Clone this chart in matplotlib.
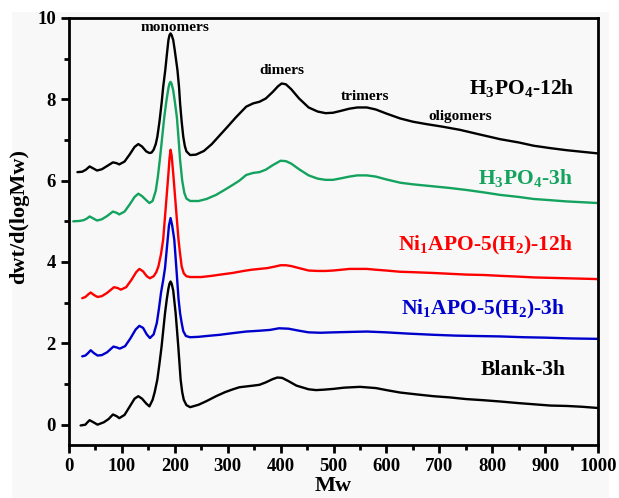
import matplotlib
matplotlib.use("Agg")
import matplotlib.pyplot as plt
from matplotlib.patches import Rectangle
from matplotlib.ticker import MultipleLocator

plt.rcParams['font.family'] = ['Liberation Serif', 'DejaVu Serif']
plt.rcParams['font.weight'] = 'bold'
plt.rcParams['mathtext.fontset'] = 'custom'
plt.rcParams['mathtext.rm'] = 'Liberation Serif:bold'
plt.rcParams['mathtext.bf'] = 'Liberation Serif:bold'

# ---- data ----
h3po4_12h_x = [16, 25, 32, 39, 46, 53, 62, 72, 83, 90, 95, 105, 115, 124, 131, 138, 146, 152, 156, 160,
               164, 167, 171, 175, 178, 182, 185, 188, 190, 192, 194, 197, 200, 205, 208, 210, 213, 216, 219,
               222, 229, 240, 255, 270, 286, 300, 315, 335, 348, 360, 372, 385, 395, 402, 410, 420, 435, 453,
               470, 485, 499, 515, 530, 545, 563, 580, 600, 626, 650, 676, 705, 739, 775, 815, 850, 878, 910,
               940, 970, 1000]
h3po4_12h_y = [6.21, 6.22, 6.27, 6.35, 6.30, 6.25, 6.28, 6.36, 6.45, 6.43, 6.40, 6.47, 6.65, 6.83, 6.90, 6.84, 6.72, 6.68, 6.69, 6.76,
               6.90, 7.08, 7.45, 7.90, 8.30, 8.72, 9.10, 9.46, 9.58, 9.62, 9.58, 9.46, 9.20, 8.72, 8.30, 7.90, 7.45, 7.08, 6.85,
               6.72, 6.63, 6.64, 6.73, 6.90, 7.13, 7.33, 7.55, 7.82, 7.90, 7.94, 8.02, 8.18, 8.32, 8.39, 8.37, 8.25, 8.02, 7.80,
               7.70, 7.66, 7.67, 7.72, 7.77, 7.80, 7.80, 7.75, 7.65, 7.53, 7.45, 7.39, 7.33, 7.25, 7.14, 7.02, 6.94, 6.86, 6.80,
               6.75, 6.71, 6.67]

h3po4_3h_x = [8, 20, 28, 34, 39, 46, 53, 62, 72, 83, 90, 95, 105, 115, 124, 131, 138, 146, 152, 158, 164,
              168, 172, 176, 180, 184, 188, 190, 192, 194, 197, 200, 204, 207, 210, 214, 218, 222, 229,
              245, 260, 278, 295, 310, 322, 335, 348, 360, 372, 385, 400, 410, 420, 435, 453, 470, 485, 499,
              515, 530, 545, 563, 580, 600, 626, 650, 689, 720, 752, 785, 815, 850, 878, 910, 940, 970, 1000]
h3po4_3h_y = [5.00, 5.01, 5.03, 5.07, 5.12, 5.07, 5.02, 5.05, 5.13, 5.24, 5.21, 5.17, 5.24, 5.42, 5.60, 5.68, 5.62, 5.52, 5.45, 5.50, 5.75,
              6.10, 6.55, 7.05, 7.55, 7.95, 8.28, 8.39, 8.43, 8.38, 8.22, 7.95, 7.55, 7.05, 6.51, 6.00, 5.70, 5.56, 5.50,
              5.50, 5.55, 5.65, 5.78, 5.90, 6.00, 6.14, 6.19, 6.21, 6.27, 6.38, 6.49, 6.48, 6.42, 6.28, 6.13, 6.05, 6.02, 6.02,
              6.06, 6.10, 6.13, 6.13, 6.10, 6.03, 5.95, 5.91, 5.86, 5.82, 5.77, 5.71, 5.65, 5.60, 5.55, 5.52, 5.49, 5.47, 5.45]

ni_12h_x = [25, 31, 36, 41, 47, 54, 62, 72, 85, 92, 98, 108, 118, 127, 133, 140, 147, 153, 160, 165,
            169, 174, 178, 183, 188, 190, 192, 194, 197, 202, 207, 210, 213, 217, 222, 229, 250, 270, 286,
            309, 330, 345, 360, 375, 390, 400, 410, 420, 435, 453, 470, 485, 499, 515, 530, 545, 563, 580,
            600, 626, 650, 689, 720, 752, 785, 815, 850, 880, 910, 940, 970, 1000]
ni_12h_y = [3.11, 3.14, 3.20, 3.25, 3.19, 3.14, 3.16, 3.24, 3.38, 3.36, 3.32, 3.38, 3.56, 3.75, 3.83, 3.77, 3.65, 3.60, 3.65, 3.75,
            3.89, 4.20, 4.55, 5.36, 6.18, 6.55, 6.76, 6.62, 6.18, 5.36, 4.55, 4.20, 3.89, 3.72, 3.65, 3.63, 3.63, 3.66, 3.69,
            3.73, 3.78, 3.81, 3.83, 3.85, 3.89, 3.92, 3.92, 3.90, 3.85, 3.79, 3.78, 3.78, 3.79, 3.81, 3.83, 3.83, 3.83, 3.81,
            3.79, 3.76, 3.75, 3.73, 3.71, 3.69, 3.68, 3.66, 3.64, 3.62, 3.61, 3.60, 3.59, 3.58]

ni_3h_x = [25, 31, 36, 41, 47, 54, 62, 72, 84, 90, 96, 106, 116, 126, 133, 140, 147, 153, 160, 166,
           170, 174, 178, 181.5, 184, 186.5, 189, 192, 195, 199, 201, 203.6, 207, 210, 213, 216, 221, 229,
           245, 260, 285, 309, 335, 360, 380, 397, 415, 435, 453, 475, 500, 530, 563, 600, 640, 689, 730,
           770, 815, 860, 900, 950, 1000]
ni_3h_y = [1.68, 1.70, 1.76, 1.83, 1.76, 1.70, 1.71, 1.78, 1.92, 1.90, 1.87, 1.93, 2.12, 2.34, 2.43, 2.38, 2.22, 2.13, 2.22, 2.50,
           2.85, 3.25, 3.55, 3.85, 4.20, 4.55, 4.90, 5.08, 4.90, 4.55, 4.20, 3.73, 3.10, 2.74, 2.50, 2.30, 2.18, 2.15,
           2.16, 2.18, 2.21, 2.25, 2.29, 2.31, 2.33, 2.37, 2.36, 2.31, 2.27, 2.26, 2.27, 2.28, 2.29, 2.27, 2.24, 2.21, 2.19,
           2.18, 2.17, 2.15, 2.14, 2.12, 2.11]

blank_x = [22, 31, 35, 39, 46, 54, 66, 75, 83, 90, 95, 105, 115, 124, 131, 138, 146, 152, 158, 162,
           167, 171, 175, 178, 181.5, 185, 188, 190, 192, 194, 197, 201.6, 204, 206.6, 211, 214, 217, 222,
           229, 245, 260, 278, 295, 310, 322, 335, 348, 360, 372, 385, 394, 403, 415, 430, 453, 467, 481,
           500, 520, 550, 580, 600, 626, 660, 689, 720, 750, 785, 815, 850, 880, 910, 941, 970, 1000]
blank_y = [-0.02, 0.00, 0.06, 0.11, 0.06, 0.00, 0.06, 0.14, 0.25, 0.21, 0.16, 0.24, 0.45, 0.64, 0.70, 0.64, 0.52, 0.45, 0.61, 0.80,
           1.11, 1.50, 1.92, 2.30, 2.74, 3.10, 3.35, 3.47, 3.52, 3.47, 3.30, 2.74, 2.35, 1.92, 1.11, 0.80, 0.61, 0.48,
           0.43, 0.49, 0.58, 0.70, 0.80, 0.87, 0.92, 0.94, 0.96, 0.98, 1.04, 1.12, 1.16, 1.15, 1.07, 0.96, 0.87, 0.85, 0.86,
           0.88, 0.91, 0.93, 0.90, 0.85, 0.79, 0.74, 0.70, 0.67, 0.63, 0.60, 0.57, 0.53, 0.50, 0.47, 0.46, 0.44, 0.41]

series = [
    (h3po4_12h_x, h3po4_12h_y, 'black'),
    (h3po4_3h_x, h3po4_3h_y, '#13a35e'),
    (ni_12h_x, ni_12h_y, '#ff0000'),
    (ni_3h_x, ni_3h_y, '#0000cc'),
    (blank_x, blank_y, 'black'),
]

fig = plt.figure(figsize=(6.19, 4.98), dpi=100, facecolor='white')
fig.patches.append(Rectangle((12 / 619, 0), 1 - 22 / 619, 1 - 12 / 498,
                             transform=fig.transFigure, facecolor='#f8f8f8',
                             edgecolor='none', zorder=-10))
ax = fig.add_axes([69 / 619, 53 / 498, 529 / 619, 427 / 498])
ax.set_facecolor('#f8f8f8')

for x, y, c in series:
    ax.plot(x, y, color=c, lw=1.7, solid_joinstyle='round', solid_capstyle='round')

ax.set_xlim(0, 1000)
ax.set_ylim(-0.5, 10)
ax.xaxis.set_major_locator(MultipleLocator(100))
ax.xaxis.set_minor_locator(MultipleLocator(50))
ax.yaxis.set_major_locator(MultipleLocator(2))
ax.yaxis.set_minor_locator(MultipleLocator(1))
ax.tick_params(which='major', direction='out', length=6, width=2, labelsize=13.5, pad=3.5)
ax.tick_params(which='minor', direction='out', length=3.5, width=2)
ax.tick_params(top=False, right=False)
for sp in ax.spines.values():
    sp.set_linewidth(2)
for lab in ax.get_xticklabels() + ax.get_yticklabels():
    lab.set_fontweight('bold')

ax.set_xlabel('Mw', fontsize=16, fontweight='bold', labelpad=0.5)
ax.set_ylabel('dwt/d(logMw)', fontsize=16, fontweight='bold')
ax.yaxis.set_label_coords(-0.075, 0.535)

# peak annotations
ax.text(200, 9.76, 'monomers', ha='center', va='center', fontsize=11, fontweight='bold')
ax.text(403, 8.70, 'dimers', ha='center', va='center', fontsize=11, fontweight='bold')
ax.text(560, 8.07, 'trimers', ha='center', va='center', fontsize=11, fontweight='bold')
ax.text(739, 7.59, 'oligomers', ha='center', va='center', fontsize=11, fontweight='bold')

# series labels
ax.text(955, 8.25, r'H$_3$PO$_4$-12h', ha='right', va='center', fontsize=15.5, color='black')
ax.text(952, 6.04, r'H$_3$PO$_4$-3h', ha='right', va='center', fontsize=15.5, color='#13a35e')
ax.text(952, 4.40, r'Ni$_1$APO-5(H$_2$)-12h', ha='right', va='center', fontsize=15.5, color='#ff0000')
ax.text(938, 2.83, r'Ni$_1$APO-5(H$_2$)-3h', ha='right', va='center', fontsize=15.5, color='#0000cc')
ax.text(938, 1.35, 'Blank-3h', ha='right', va='center', fontsize=15.5, color='black')

fig.savefig('out.png', dpi=100, facecolor=fig.get_facecolor())
